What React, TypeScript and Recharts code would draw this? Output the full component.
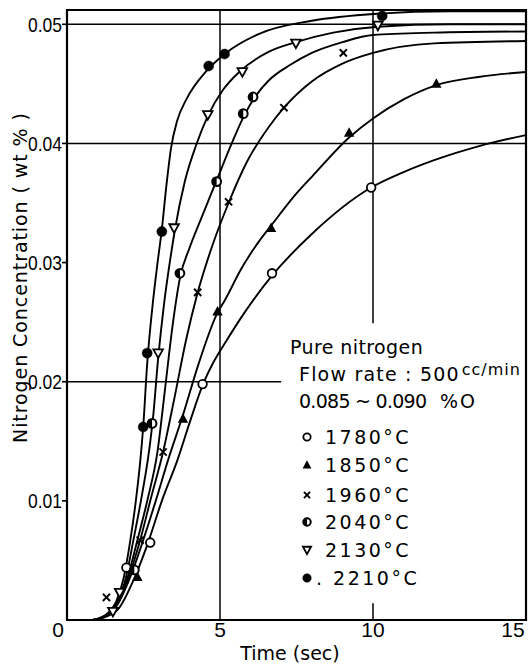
import React from 'react';
import {
  ComposedChart,
  Line,
  Scatter,
  XAxis,
  YAxis,
  ReferenceLine,
  ReferenceArea,
} from 'recharts';

// ---- axis ticks ----
const timeTicks = [0, 5, 10, 15];
const timeTickLabels = ['0', '5', '10', '15'];
const concTicks = [0.01, 0.02, 0.03, 0.04, 0.05];
const concTickLabels = ['0.01', '0.02', '0.03', '0.04', '0.05'];

// ---- series labels ----
const seriesLabels = ['1780°C', '1850°C', '1960°C', '2040°C', '2130°C', '. 2210°C'];

// ---- drawn curves (time sec, wt%) ----
const curve1780: [number, number][] = [
  [0.85, 0], [1.3, 0.0003], [1.7, 0.001], [2.2, 0.0035], [2.65, 0.0065], [3.1, 0.01],
  [3.62, 0.0135], [4.0, 0.0165], [4.43, 0.0197], [4.8, 0.0217], [5.2, 0.0234], [5.8, 0.0258],
  [6.7, 0.0289], [8.0, 0.0324], [9.94, 0.0363], [11, 0.0376], [12, 0.0386], [13.5, 0.0398], [15, 0.0407],
];
const curve1850: [number, number][] = [
  [0.85, 0], [1.3, 0.0004], [1.6, 0.0011], [2.05, 0.0035], [2.49, 0.0067], [2.9, 0.01],
  [3.3, 0.0134], [3.79, 0.0172], [4.3, 0.0215], [4.92, 0.0258], [5.15, 0.0268], [5.7, 0.0295],
  [6.28, 0.0318], [6.67, 0.0331], [7.5, 0.0358], [8.0, 0.0372], [9.22, 0.0405], [10, 0.0421],
  [11, 0.0437], [12.07, 0.0449], [13.5, 0.0456], [15, 0.046],
];
const curve1960: [number, number][] = [
  [0.85, 0], [1.3, 0.0004], [1.6, 0.0012], [2.0, 0.0035], [2.39, 0.0067], [2.75, 0.0103],
  [3.14, 0.0141], [3.5, 0.0185], [3.9, 0.0236], [4.24, 0.0272], [4.72, 0.0312], [5.28, 0.035],
  [5.89, 0.0385], [6.6, 0.0414], [7.09, 0.043], [8.0, 0.0452], [9, 0.0467], [10, 0.0476],
  [12, 0.0484], [15, 0.0486],
];
const curve2040: [number, number][] = [
  [0.85, 0], [1.3, 0.0004], [1.6, 0.0012], [1.95, 0.0033], [2.3, 0.0067], [2.65, 0.0103],
  [2.95, 0.014], [3.2, 0.0193], [3.45, 0.0247], [3.69, 0.0287], [4.0, 0.0312], [4.4, 0.0338],
  [4.89, 0.0369], [5.4, 0.0401], [5.8, 0.0424], [6.2, 0.0441], [6.6, 0.0453], [7.3, 0.0466],
  [8.0, 0.0476], [9, 0.0485], [10, 0.0491], [12, 0.0493], [15, 0.0494],
];
const curve2130: [number, number][] = [
  [0.85, 0], [1.3, 0.0004], [1.6, 0.0013], [1.9, 0.0033], [2.17, 0.0067], [2.45, 0.0105],
  [2.65, 0.0136], [2.82, 0.0172], [2.98, 0.022], [3.17, 0.0265], [3.37, 0.0302], [3.53, 0.0328],
  [3.85, 0.0368], [4.24, 0.04], [4.6, 0.0423], [5.1, 0.0445], [5.63, 0.046], [6.6, 0.0477],
  [7.48, 0.0485], [8.7, 0.0493], [10.16, 0.0498], [12.5, 0.05], [15, 0.05],
];
const curve2210: [number, number][] = [
  [0.85, 0], [1.3, 0.0005], [1.6, 0.0015], [1.85, 0.0035], [2.07, 0.0067], [2.25, 0.01],
  [2.4, 0.0135], [2.49, 0.0162], [2.62, 0.0215], [2.8, 0.0265], [2.95, 0.0298], [3.1, 0.0328],
  [3.25, 0.0365], [3.4, 0.0396], [3.6, 0.0419], [3.9, 0.0437], [4.56, 0.0461], [5.2, 0.0476],
  [6.28, 0.0492], [8.0, 0.0503], [10.2, 0.0509], [12.5, 0.0511], [15, 0.0511],
];

// ---- measured points (time sec, wt%) ----
const pts1780: [number, number][] = [
  [1.94, 0.0044], [2.72, 0.0065], [4.43, 0.0198], [6.7, 0.0291], [9.94, 0.0363],
];
const pts1850: [number, number][] = [
  [2.3, 0.0036], [3.79, 0.0169], [4.92, 0.0259], [6.67, 0.0329], [9.22, 0.0409], [12.07, 0.045],
];
const pts1960: [number, number][] = [
  [1.29, 0.0019], [2.39, 0.0067], [3.14, 0.0141], [4.27, 0.0275], [5.28, 0.0351], [7.09, 0.043], [9.03, 0.0476],
];
const pts2040: [number, number][] = [
  [2.2, 0.0042], [2.78, 0.0165], [3.69, 0.0291], [4.89, 0.0368], [5.76, 0.0425], [6.08, 0.0439],
];
const pts2130: [number, number][] = [
  [1.5, 0.0007], [1.72, 0.0023], [2.98, 0.0224], [3.5, 0.0329], [4.6, 0.0424], [5.73, 0.046], [7.48, 0.0484], [10.16, 0.0499],
];
const pts2210: [number, number][] = [
  [2.49, 0.0162], [2.62, 0.0224], [3.1, 0.0326], [4.63, 0.0465], [5.15, 0.0475], [10.3, 0.0507],
];

const toRows = (arr: [number, number][]) => arr.map(([t, v]) => ({ t, v }));

// ---- marker shapes ----
const SW = 1.8;
const openCircle = (cx: number, cy: number, k = 1) => (
  <circle cx={cx} cy={cy} r={4.3 * k} fill="#fff" stroke="#000" strokeWidth={SW} />
);
const filledCircle = (cx: number, cy: number, k = 1) => (
  <circle cx={cx} cy={cy} r={5 * k} fill="#000" stroke="#000" strokeWidth={0.5} />
);
const filledTriUp = (cx: number, cy: number, k = 1) => (
  <path
    d={`M${cx},${cy - 5.5 * k} L${cx + 5.2 * k},${cy + 4 * k} L${cx - 5.2 * k},${cy + 4 * k} Z`}
    fill="#000"
  />
);
const openTriDown = (cx: number, cy: number, k = 1) => (
  <path
    d={`M${cx - 4.8 * k},${cy - 3.8 * k} L${cx + 4.8 * k},${cy - 3.8 * k} L${cx},${cy + 4.8 * k} Z`}
    fill="#fff"
    stroke="#000"
    strokeWidth={SW}
  />
);
const cross = (cx: number, cy: number, k = 1) => {
  const a = 3.6 * k;
  return (
    <g stroke="#000" strokeWidth={1.9}>
      <line x1={cx - a} y1={cy - a} x2={cx + a} y2={cy + a} />
      <line x1={cx - a} y1={cy + a} x2={cx + a} y2={cy - a} />
    </g>
  );
};
const halfCircle = (cx: number, cy: number, k = 1) => {
  const r = 4.4 * k;
  return (
    <g>
      <circle cx={cx} cy={cy} r={r} fill="#fff" stroke="#000" strokeWidth={2} />
      <path d={`M${cx},${cy - r} A${r},${r} 0 0 0 ${cx},${cy + r} Z`} fill="#000" />
    </g>
  );
};

const markerFns = [openCircle, filledTriUp, cross, halfCircle, openTriDown, filledCircle];
const curves = [curve1780, curve1850, curve1960, curve2040, curve2130, curve2210];
const points = [pts1780, pts1850, pts1960, pts2040, pts2130, pts2210];

const shapeFor = (i: number) => (props: any) => {
  const { cx, cy } = props;
  if (cx == null || cy == null) return <g />;
  return markerFns[i](cx, cy);
};

const W = 528;
const H = 666;
const textFont = '"DejaVu Sans", "Noto Sans", sans-serif';
const tickFont = '"Liberation Sans", "DejaVu Sans", sans-serif';

const YTick = (props: any) => {
  const { x, y, payload } = props;
  const idx = concTicks.indexOf(payload.value);
  const label = idx >= 0 ? concTickLabels[idx] : '';
  return (
    <text
      x={x}
      y={y}
      textAnchor="end"
      dominantBaseline="central"
      fontFamily={tickFont}
      fontSize={21}
      fill="#000"
      textLength={34}
      lengthAdjust="spacingAndGlyphs"
    >
      {label}
    </text>
  );
};

const XTick = (props: any) => {
  const { x, y, payload } = props;
  const idx = timeTicks.indexOf(payload.value);
  const label = idx >= 0 ? timeTickLabels[idx] : '';
  const shift = payload.value === 0 ? -9 : payload.value === 15 ? -7 : 0;
  return (
    <text
      x={x + shift}
      y={y + 9}
      textAnchor="middle"
      dominantBaseline="central"
      fontFamily={tickFont}
      fontSize={21}
      fill="#000"
    >
      {label}
    </text>
  );
};

const legendRowsY = [437, 465, 495, 522, 550, 578];

export default function App() {
  return (
    <div style={{ position: 'absolute', left: 0, top: 0, width: W, height: H, background: '#fff' }}>
      <ComposedChart
        width={W}
        height={H}
        margin={{ top: 10, right: 2, bottom: 16, left: 7 }}
      >
        <XAxis
          type="number"
          dataKey="t"
          domain={[0, 15]}
          ticks={timeTicks}
          allowDataOverflow
          height={30}
          tickLine={false}
          tickSize={0}
          tickMargin={0}
          axisLine={{ stroke: '#000', strokeWidth: 2 }}
          tick={<XTick />}
        />
        <YAxis
          type="number"
          dataKey="v"
          domain={[0, 0.0512]}
          ticks={concTicks}
          allowDataOverflow
          width={60}
          tickSize={5}
          tickMargin={0}
          tickLine={{ stroke: '#000', strokeWidth: 1.6 }}
          axisLine={{ stroke: '#000', strokeWidth: 2 }}
          tick={<YTick />}
        />
        <ReferenceArea
          x1={0}
          x2={15}
          y1={0}
          y2={0.0512}
          fill="none"
          stroke="#000"
          strokeWidth={2.2}
          ifOverflow="visible"
        />
        <ReferenceLine y={0.05} stroke="#000" strokeWidth={1.5} />
        <ReferenceLine y={0.04} stroke="#000" strokeWidth={1.5} />
        <ReferenceLine
          segment={[{ x: 0, y: 0.02 }, { x: 7.0, y: 0.02 }]}
          stroke="#000"
          strokeWidth={1.5}
        />
        <ReferenceLine x={5} stroke="#000" strokeWidth={1.5} />
        <ReferenceLine
          segment={[{ x: 10, y: 0.0249 }, { x: 10, y: 0.0512 }]}
          stroke="#000"
          strokeWidth={1.5}
        />
        <ReferenceLine
          segment={[{ x: 10, y: 0 }, { x: 10, y: 0.0014 }]}
          stroke="#000"
          strokeWidth={1.5}
        />
        {curves.map((c, i) => (
          <Line
            key={`c${i}`}
            data={toRows(c)}
            dataKey="v"
            type="monotone"
            dot={false}
            activeDot={false}
            stroke="#000"
            strokeWidth={1.9}
            isAnimationActive={false}
            name={seriesLabels[i]}
          />
        ))}
        {points.map((p, i) => (
          <Scatter
            key={`p${i}`}
            data={toRows(p)}
            dataKey="v"
            shape={shapeFor(i)}
            isAnimationActive={false}
            name={seriesLabels[i]}
          />
        ))}
      </ComposedChart>
      <svg
        width={W}
        height={H}
        style={{ position: 'absolute', left: 0, top: 0, pointerEvents: 'none' }}
      >
        <text
          transform="translate(20,278) rotate(-90)"
          textAnchor="middle"
          dominantBaseline="central"
          fontFamily={textFont}
          fontSize={19}
          fill="#000"
          textLength={330}
          lengthAdjust="spacing"
        >
          Nitrogen  Concentration ( wt % )
        </text>
        <text
          x={290}
          y={653}
          textAnchor="middle"
          dominantBaseline="central"
          fontFamily={textFont}
          fontSize={19}
          fill="#000"
        >
          Time (sec)
        </text>
        <text x={290} y={347} dominantBaseline="central" fontFamily={textFont} fontSize={19} fill="#000" letterSpacing={0.4}>
          Pure nitrogen
        </text>
        <text x={299} y={374} dominantBaseline="central" fontFamily={textFont} fontSize={19} fill="#000" letterSpacing={1.2}>
          Flow rate : 500
          <tspan fontSize={16} dx={2} dy={-5} letterSpacing={1}>cc/min</tspan>
        </text>
        <text x={299} y={401} dominantBaseline="central" fontFamily={textFont} fontSize={19} fill="#000" textLength={128} lengthAdjust="spacing">
          0.085 ~ 0.090
        </text>
        <text x={440} y={401} dominantBaseline="central" fontFamily={textFont} fontSize={19} fill="#000" letterSpacing={2}>
          %O
        </text>
        {seriesLabels.map((lab, i) => (
          <g key={`lg${i}`}>
            {markerFns[i](307, legendRowsY[i], 0.85)}
            <text
              x={lab.startsWith('.') ? 316 : 325}
              y={legendRowsY[i]}
              dominantBaseline="central"
              fontFamily={textFont}
              fontSize={19}
              letterSpacing={2.5}
              fill="#000"
            >
              {lab}
            </text>
          </g>
        ))}
      </svg>
    </div>
  );
}
